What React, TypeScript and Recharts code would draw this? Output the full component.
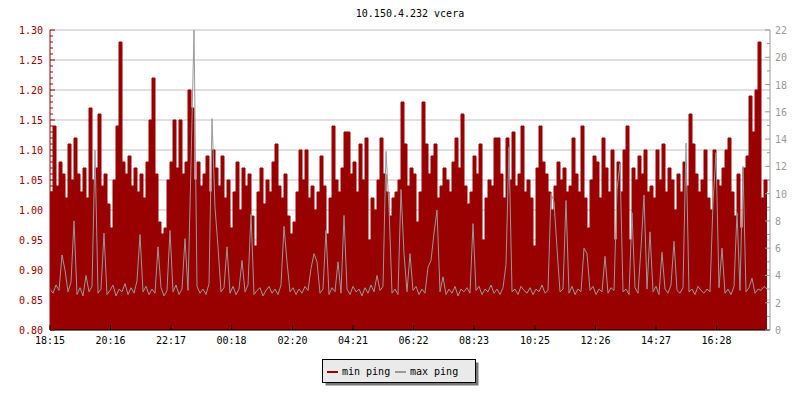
import React from "react";
import { ComposedChart, Area, Line, XAxis, YAxis, CartesianGrid } from "recharts";

// min ping (left axis), one sample every 6 minutes starting 18:15
const minPing = [
  1.03, 1.14, 1.04, 1.08, 1.06, 1.02, 1.11, 1.05, 1.12, 1.06,
  1.03, 1.07, 1.02, 1.17, 1.05, 1.07, 1.16, 1.04, 1.06, 1.01,
  0.97, 1.05, 1.14, 1.28, 1.08, 1.06, 1.09, 1.04, 1.07, 1.03,
  1.06, 1.02, 1.08, 1.15, 1.22, 1.06, 0.98, 0.96, 0.97, 1.05,
  1.08, 1.15, 1.07, 1.15, 1.06, 1.08, 1.20, 1.17, 1.05, 1.08,
  1.04, 1.06, 1.09, 1.03, 1.10, 1.07, 1.04, 1.09, 1.02, 1.05,
  0.97, 1.03, 1.08, 1.00, 1.07, 1.04, 1.06, 0.99, 0.94, 1.03,
  1.07, 1.01, 1.05, 1.03, 1.08, 1.11, 1.04, 1.02, 1.06, 0.99,
  0.96, 0.98, 1.03, 1.10, 1.05, 1.10, 1.02, 1.04, 1.00, 1.03,
  1.09, 1.04, 0.96, 1.02, 1.14, 1.05, 1.03, 1.07, 1.13, 1.13,
  1.06, 1.08, 1.03, 1.11, 1.05, 1.12, 0.95, 1.02, 1.00, 1.05,
  1.12, 1.06, 1.03, 0.99, 1.02, 1.03, 1.05, 1.18, 1.11, 1.04,
  1.07, 1.06, 0.98, 1.03, 1.18, 1.11, 1.06, 1.09, 1.11, 1.02,
  1.04, 1.07, 1.05, 1.03, 1.08, 1.12, 1.07, 1.16, 1.04, 1.01,
  1.03, 1.09, 1.06, 1.11, 0.95, 1.02, 1.05, 1.04, 1.12, 1.12,
  1.06, 1.02, 1.12, 1.05, 1.13, 1.04, 1.06, 1.14, 1.03, 1.05,
  1.02, 0.94, 1.07, 1.14, 1.08, 1.06, 1.03, 1.00, 1.04, 1.08,
  1.05, 1.07, 1.03, 1.04, 1.12, 1.06, 1.03, 1.14, 1.02, 0.97,
  1.05, 1.09, 1.08, 1.02, 1.12, 1.07, 1.03, 1.10, 0.95, 1.08,
  1.03, 1.10, 1.14, 0.95, 1.07, 1.05, 1.09, 1.06, 1.10, 1.03,
  1.04, 1.02, 1.10, 1.05, 1.11, 1.03, 1.07, 1.05, 1.00, 1.06,
  1.03, 1.08, 1.04, 1.16, 1.11, 1.06, 1.03, 1.05, 1.10, 1.02,
  1.00, 1.10, 1.05, 1.04, 1.07, 1.10, 1.12, 1.03, 0.99, 1.06,
  0.97, 1.07, 1.09, 1.19, 1.13, 1.20, 1.28, 1.02, 1.05, 1.03,
];

// max ping (right axis)
const maxPing = [
  3.0, 2.7, 3.3, 2.9, 5.5, 4.4, 2.8, 3.5, 8.0, 2.6,
  3.1, 2.5, 4.0, 2.8, 3.2, 13.2, 2.7, 3.0, 7.1, 2.6,
  2.9, 3.3, 2.5, 3.0, 2.8, 3.4, 2.6, 3.1, 2.7, 3.6,
  7.0, 2.8, 3.2, 2.6, 3.0, 2.7, 6.1, 3.1, 2.5, 2.9,
  7.3, 2.8, 3.3, 2.6, 3.0, 6.7, 2.9, 12.2, 22.0, 3.2,
  2.7, 3.0, 2.6, 3.4, 15.5, 9.0, 6.1, 2.8, 3.1, 6.1,
  2.7, 3.2, 2.6, 3.0, 5.1, 2.8, 3.3, 8.5, 2.6, 2.9,
  3.1, 2.5, 2.9, 3.2, 2.7, 3.0, 2.6, 3.3, 7.6, 5.0,
  2.8, 3.1, 2.6, 3.0, 2.7, 3.2, 2.9, 4.5, 5.6, 5.0,
  2.7, 3.0, 7.3, 2.6, 3.1, 2.8, 5.0, 2.7, 8.4, 3.0,
  2.6, 3.2, 2.8, 3.0, 2.5, 3.1, 2.7, 3.3, 2.8, 4.0,
  2.9, 3.2, 13.1, 9.0, 2.7, 3.0, 2.6, 10.3, 5.6, 2.8,
  5.6, 2.9, 3.2, 2.6, 3.0, 2.7, 4.6, 5.1, 7.1, 8.8,
  2.8, 3.9, 2.6, 3.0, 2.7, 3.2, 2.5, 3.0, 2.8, 3.1,
  2.7, 7.8, 2.9, 3.2, 2.6, 3.0, 2.8, 3.3, 2.7, 3.0,
  2.6, 3.1, 4.8, 13.4, 2.8, 3.0, 2.6, 3.2, 2.9, 2.7,
  3.1, 2.6, 3.0, 2.8, 3.3, 2.7, 2.9, 10.0, 9.4, 6.0,
  2.8, 3.0, 9.5, 2.7, 3.2, 2.6, 3.0, 2.8, 6.0, 5.6,
  2.9, 3.2, 2.6, 3.0, 2.8, 5.4, 2.7, 3.1, 2.9, 10.3,
  12.2, 2.8, 3.0, 2.6, 8.6, 3.1, 2.7, 6.0, 9.9, 3.0,
  7.2, 2.8, 3.2, 2.6, 5.7, 3.0, 2.7, 3.3, 6.5, 2.9,
  2.7, 3.1, 13.7, 2.8, 3.0, 2.6, 3.2, 2.9, 2.7, 3.0,
  2.8, 9.3, 13.0, 3.1, 6.0, 2.7, 3.0, 2.6, 3.2, 8.6,
  2.9, 12.0, 2.8, 3.1, 3.8, 2.7, 3.0, 2.9, 3.2, 3.0,
];

const STEP_MIN = 6;
const SPAN_MIN = 1440;

// x-axis tick positions (minutes after 18:15) and labels
const timeTicks = [0, 121, 242, 363, 485, 606, 727, 848, 970, 1091, 1212, 1333];
const timeLabels = ["18:15", "20:16", "22:17", "00:18", "02:20", "04:21", "06:22", "08:23", "10:25", "12:26", "14:27", "16:28"];

const leftMajor = [0.8, 0.85, 0.9, 0.95, 1.0, 1.05, 1.1, 1.15, 1.2, 1.25, 1.3];
const rightMajor = [0, 2, 4, 6, 8, 10, 12, 14, 16, 18, 20, 22];

const leftAllTicks = Array.from({ length: 51 }, (_, k) => Math.round(80 + k) / 100);
const rightAllTicks = Array.from({ length: 23 }, (_, k) => k);

const data = minPing.map((v, i) => ({ t: i * STEP_MIN, min: v, max: maxPing[i] }));

const RED = "#990000";
const GREY = "#999999";
const FONT = "'DejaVu Sans Mono', monospace";

const isMajorLeft = (v: number) => leftMajor.some((m) => Math.abs(m - v) < 1e-6);
const isMajorRight = (v: number) => rightMajor.includes(v);

const LeftTick = (props: any) => {
  const { x, y, payload } = props;
  const v = payload.value as number;
  const major = isMajorLeft(v);
  return (
    <g>
      <line x1={x} x2={x + (major ? 5 : 3)} y1={y} y2={y} stroke={RED} strokeWidth={1} />
      {major && (
        <text x={x - 7} y={y} dy={4} textAnchor="end" fill={RED} fontSize={10} fontFamily={FONT}>
          {v.toFixed(2)}
        </text>
      )}
    </g>
  );
};

const RightTick = (props: any) => {
  const { x, y, payload } = props;
  const v = payload.value as number;
  const major = isMajorRight(v);
  return (
    <g>
      <line x1={x - (major ? 5 : 3)} x2={x} y1={y} y2={y} stroke={GREY} strokeWidth={1} />
      {major && (
        <text x={x + 5} y={y} dy={4} textAnchor="start" fill={GREY} fontSize={10} fontFamily={FONT}>
          {v}
        </text>
      )}
    </g>
  );
};

const BottomTick = (props: any) => {
  const { x, y, index } = props;
  return (
    <g>
      <line x1={x} x2={x} y1={y - 5} y2={y} stroke="#000" strokeWidth={1} />
      <text x={x} y={y + 14} textAnchor="middle" fill="#000" fontSize={10} fontFamily={FONT}>
        {timeLabels[index] ?? ""}
      </text>
    </g>
  );
};

export default function App() {
  return (
    <div style={{ position: "absolute", left: 0, top: 0, width: 800, height: 400, background: "#fff" }}>
      <ComposedChart width={800} height={400} data={data} margin={{ top: 30, right: 0, bottom: 0, left: 0 }}>
        <CartesianGrid
          yAxisId="left"
          vertical={false}
          horizontalValues={leftMajor}
          stroke="#c0c0c0"
          strokeWidth={1}
        />
        <XAxis
          dataKey="t"
          type="number"
          domain={[0, SPAN_MIN]}
          ticks={timeTicks}
          interval={0}
          height={70}
          tickSize={0}
          tickMargin={0}
          tickLine={false}
          axisLine={{ stroke: "#000" }}
          tick={<BottomTick />}
          allowDataOverflow
        />
        <YAxis
          yAxisId="left"
          orientation="left"
          width={50}
          domain={[0.8, 1.3]}
          ticks={leftAllTicks}
          interval={0}
          tickSize={0}
          tickMargin={0}
          tickLine={false}
          axisLine={{ stroke: RED }}
          tick={<LeftTick />}
          allowDataOverflow
        />
        <YAxis
          yAxisId="right"
          orientation="right"
          width={30}
          domain={[0, 22]}
          ticks={rightAllTicks}
          interval={0}
          tickSize={0}
          tickMargin={0}
          tickLine={false}
          axisLine={{ stroke: GREY }}
          tick={<RightTick />}
          allowDataOverflow
        />
        <Area
          yAxisId="left"
          dataKey="min"
          type="stepAfter"
          fill={RED}
          fillOpacity={1}
          stroke={RED}
          strokeWidth={1}
          isAnimationActive={false}
          dot={false}
          activeDot={false}
        />
        <Line
          yAxisId="right"
          dataKey="max"
          type="linear"
          stroke={GREY}
          strokeWidth={1}
          dot={false}
          activeDot={false}
          isAnimationActive={false}
        />
      </ComposedChart>
      <svg
        width={800}
        height={400}
        style={{ position: "absolute", left: 0, top: 0, pointerEvents: "none" }}
      >
        <text x={410} y={17} textAnchor="middle" fontSize={10} fontFamily={FONT} fill="#000">
          10.150.4.232 vcera
        </text>
        <rect x={325.5} y={362.5} width={153} height={23} fill="#777777" />
        <rect x={322.5} y={359.5} width={153} height={23} fill="#eaeaea" stroke="#000" strokeWidth={1} />
        <line x1={327} x2={338} y1={372} y2={372} stroke={RED} strokeWidth={2} />
        <text x={342} y={375} fontSize={10} fontFamily={FONT} fill="#000">min ping</text>
        <line x1={395} x2={406} y1={372} y2={372} stroke={GREY} strokeWidth={2} />
        <text x={410} y={375} fontSize={10} fontFamily={FONT} fill="#000">max ping</text>
      </svg>
    </div>
  );
}
